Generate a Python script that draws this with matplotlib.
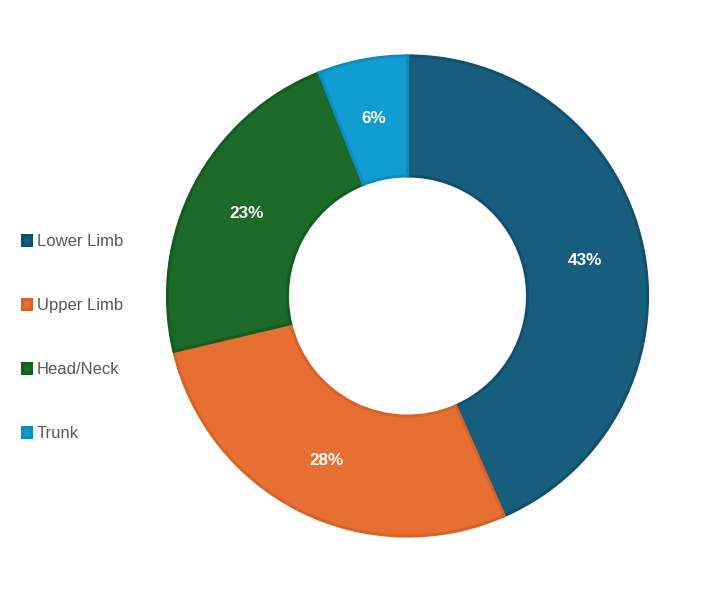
import matplotlib
matplotlib.use("Agg")
import matplotlib.pyplot as plt

categories = ["Lower Limb", "Upper Limb", "Head/Neck", "Trunk"]
values = [43.4, 27.9, 22.7, 6.0]
colors = ["#175E7E", "#E66F31", "#1C6A27", "#119DD4"]
edge_colors = ["#11506D", "#D5642B", "#165B20", "#0D8CC0"]

plt.rcParams['font.family'] = ['Liberation Sans', 'DejaVu Sans']

fig = plt.figure(figsize=(7.04, 6.0), dpi=100)
ax = fig.add_axes([165.0/704, 61.5/600, 485/704, 485/600])
ax.set_aspect('equal')
ax.axis('off')

wedges, _, autotexts = ax.pie(values, colors=colors, startangle=90, counterclock=False,
                              radius=0.99, autopct='%.0f%%', pctdistance=0.757,
                              wedgeprops=dict(width=0.495, linewidth=2.2),
                              textprops=dict(color='white', fontsize=12.3, fontweight='bold'),
                              frame=False)
for w, ec in zip(wedges, edge_colors):
    w.set_edgecolor(ec)
    w.set_joinstyle('miter')
for t in autotexts:
    t.set_va('center_baseline')
    t.set_ha('center')

ax.set_xlim(-1, 1)
ax.set_ylim(-1, 1)

leg = fig.legend(wedges, categories, loc='center left', bbox_to_anchor=(0.0195, 0.4375),
                 frameon=False, fontsize=12, labelcolor='#595959',
                 handlelength=0.52, handleheight=0.52, handletextpad=0.35,
                 labelspacing=2.93, borderpad=0)

fig.savefig("out.png", dpi=100, facecolor='white')
